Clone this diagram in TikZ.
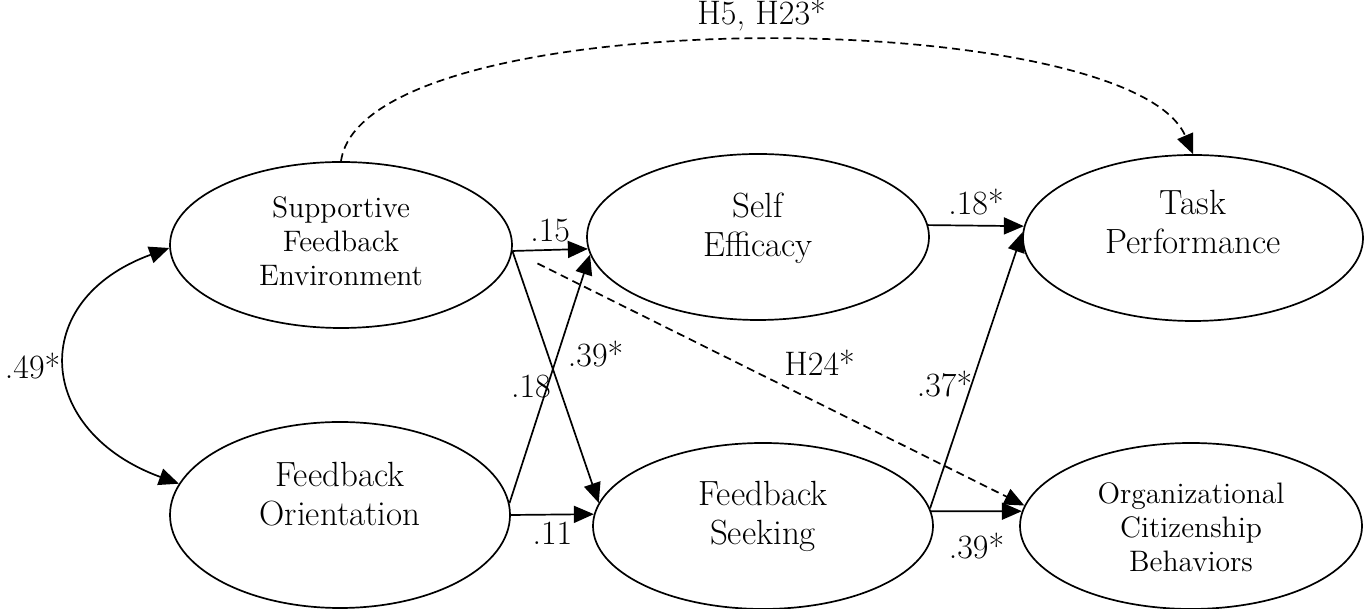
\documentclass[tikz,border=0pt]{standalone}
\usepackage{tikz}
\usetikzlibrary{calc,positioning,shapes,arrows.meta}

\newcommand{\liftup}[2]{\raisebox{#1}[\height][\depth]{\begin{tabular}{@{}c@{}}#2\end{tabular}}}

\begin{document}
\begin{tikzpicture}[x=0.5pt,y=0.5pt,line width=0.85pt,font=\fontsize{17}{19}\selectfont,
		latent/.style={draw,ellipse,inner sep=1pt,minimum width=171pt,minimum height=83pt,font=\fontsize{17.5}{19.5}\selectfont},
		smalltext/.style={font=\fontsize{14.8}{17}\selectfont},
		arr/.style={arrows={-Triangle[length=10pt,width=8.5pt]}},
		dbl/.style={arrows={Triangle[length=10pt,width=8.5pt]-Triangle[length=10pt,width=8.5pt]}},
		hyp/.style={arr,dash pattern=on 4pt off 2.5pt}]
		\useasboundingbox (0,0) rectangle (1370,609);
		\node(sfe) [latent,smalltext] at (341,364) {\liftup{0pt}{Supportive\\Feedback\\Environment}};
		\node(fo) [latent,minimum width=170pt,minimum height=93pt] at ($(sfe)+(-1,-270)$) {\liftup{8.4pt}{Feedback\\Orientation}};
		\node(se) [latent] at ($(sfe)+(417,8)$) {\liftup{4pt}{Self\\Efficacy}};
		\node(fs) [latent,minimum width=170pt] at ($(fo)+(423,-11)$) {\liftup{4.2pt}{Feedback\\Seeking}};
		\node(tp) [latent,minimum width=170pt] at ($(se)+(435,-1)$) {\liftup{6pt}{Task\\Performance}};
		\node(ocb) [latent,smalltext] at ($(fs)+(428,0)$) {\liftup{-2.4pt}{Organizational\\Citizenship\\Behaviors}};
		\path[arr]
			(sfe.358) edge node[above] {.15} (se.184)
			(sfe.358) edge node[pos=.41,right,xshift=6.3pt] {.39*} (fs.172)
			(fo.4) edge node[pos=.47,left,xshift=5.5pt] {.18} (se.186)
			(fo.0) edge node[below] {.11} (fs.176)
			(se.4) edge node[above,yshift=1.5pt] {.18*} (tp.176)
			(fs.6) edge node[pos=.45,left,xshift=4pt] {.37*} (tp.178)
			(fs.5) edge node[below,yshift=-7pt] {.39*} (ocb.175)
			(sfe.358) edge[hyp,shorten <=14pt] node[pos=.6,above,yshift=10.5pt] {H24*} (ocb.173)
			(sfe.north) edge[hyp,out=82,in=113,looseness=.49] node[above,xshift=5pt,yshift=1pt] {H5, H23*} (tp.north)
			(sfe.181) edge[dbl,out=200,in=160,looseness=1.65] node[left,xshift=.5pt] {.49*} (fo.169);
	\end{tikzpicture}
\end{document}
